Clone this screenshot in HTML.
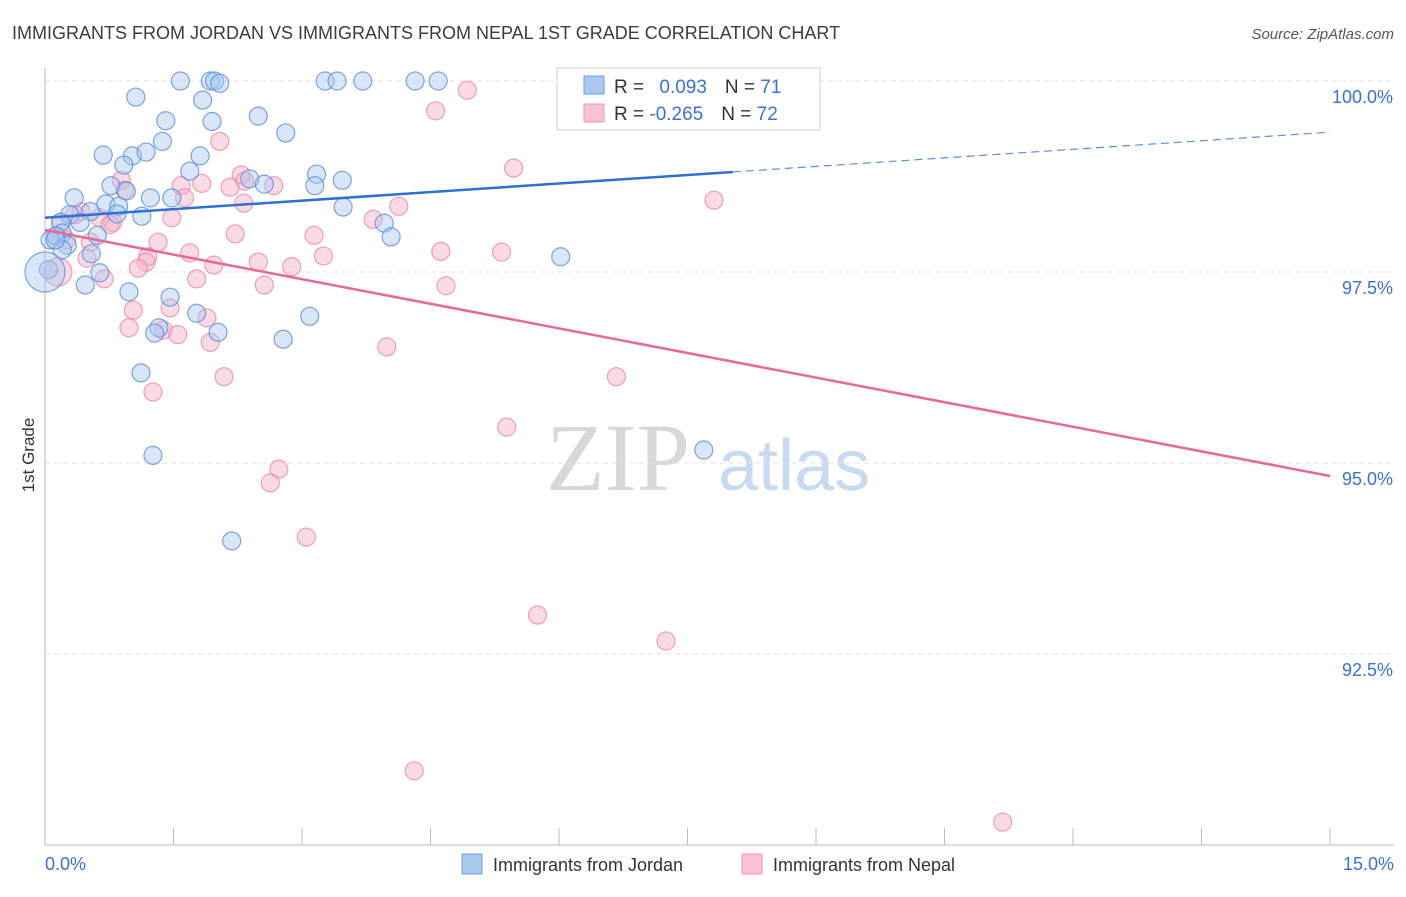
<!DOCTYPE html>
<html><head><meta charset="utf-8"><style>
body{margin:0;background:#fff;font-family:"Liberation Sans",sans-serif}
</style></head><body>
<svg id="chart" width="1406" height="892" viewBox="0 0 1406 892" xmlns="http://www.w3.org/2000/svg" font-family="Liberation Sans, sans-serif">
<text x="12" y="39" font-size="18" fill="#3c3c3c">IMMIGRANTS FROM JORDAN VS IMMIGRANTS FROM NEPAL 1ST GRADE CORRELATION CHART</text>
<text x="1394" y="39" font-size="15" font-style="italic" fill="#555" text-anchor="end">Source: ZipAtlas.com</text>
<text transform="translate(34,455) rotate(-90)" font-size="17" fill="#333" text-anchor="middle">1st Grade</text>
<g>
<text x="690" y="490" font-size="96" font-family="Liberation Serif, serif" fill="#d8d8d8" text-anchor="end">ZIP</text>
<text x="718" y="490" font-size="72" fill="#c8daf0">atlas</text>
</g>
<g id="grid"></g><g id="axes"></g><g id="pts"></g><g id="trends"></g>
<g>
<rect x="557" y="68" width="263" height="62" fill="#fff" stroke="#ccc"/>
<rect x="584" y="76" width="20" height="18" fill="#a9c8f0" stroke="#6c9ee0"/>
<rect x="584" y="104" width="20" height="18" fill="#f8c2d2" stroke="#ec9ab5"/>
<text x="614" y="93" font-size="19" fill="#333">R = <tspan fill="#3a72d0" dx="10">0.093</tspan><tspan dx="18">N = </tspan><tspan fill="#3a72d0">71</tspan></text>
<text x="614" y="120" font-size="19" fill="#333">R = <tspan fill="#3a72d0">-0.265</tspan><tspan dx="18">N = </tspan><tspan fill="#3a72d0">72</tspan></text>
</g>
<g>
<rect x="462" y="854" width="20" height="20" fill="#a9c8f0" stroke="#6c9ee0"/>
<text x="493" y="871" font-size="18" fill="#333">Immigrants from Jordan</text>
<rect x="742" y="854" width="20" height="20" fill="#f8c2d2" stroke="#ec9ab5"/>
<text x="773" y="871" font-size="18" fill="#333">Immigrants from Nepal</text>
</g>
</svg>
<script>
const xTicks=[0,1.5,3,4.5,6,7.5,9,10.5,12,13.5,15];
const yTicks=[100,97.5,95,92.5];
const yTickLabels=["100.0%","97.5%","95.0%","92.5%"];
const xEndLabels=["0.0%","15.0%"];
const jordanX=[1.58,1.93,1.98,2.04,3.27,3.41,3.71,4.32,4.59,1.06,1.84,1.41,1.95,2.49,2.81,1.37,0.68,1.02,1.18,1.81,0.92,1.69,3.17,3.47,2.39,2.56,3.15,0.77,0.95,0.34,1.23,1.48,0.71,0.86,3.48,0.53,0.84,1.13,0.29,0.18,0.41,3.96,0.20,0.61,0.13,0.06,0.26,0.54,0.20,4.04,6.02,0.64,0.47,0.98,1.46,1.77,3.09,2.02,1.33,1.28,2.78,1.12,1.26,7.69,2.18,0.12,0.04,0.0];
const jordanY=[100,100,100,99.97,100,100,100,100,100,99.79,99.75,99.48,99.47,99.54,99.32,99.21,99.03,99.02,99.07,99.02,98.9,98.82,98.78,98.7,98.72,98.65,98.63,98.63,98.56,98.47,98.47,98.47,98.39,98.36,98.35,98.29,98.26,98.23,98.25,98.15,98.15,98.14,98.01,97.98,97.97,97.92,97.85,97.74,97.79,97.96,97.7,97.49,97.33,97.24,97.17,96.96,96.92,96.71,96.77,96.7,96.62,96.18,95.1,95.17,93.98,97.92,97.53,97.5];
const nepalX=[6.23,6.46,7.19,4.93,4.56,2.04,5.47,7.81,0.89,2.29,2.33,2.67,2.16,1.83,1.59,0.93,1.63,2.32,4.13,3.83,1.48,0.79,0.42,0.19,0.35,2.22,3.14,4.62,5.33,1.32,1.69,3.25,2.49,2.88,1.2,1.18,1.09,0.49,1.97,0.69,1.77,2.56,4.68,1.03,1.46,1.89,0.98,1.38,1.55,1.93,3.99,2.09,6.67,1.26,5.39,2.73,2.63,3.05,5.75,7.25,4.31,11.18,0.15,0.25,0.53,0.64,0.76,0.12];
const nepalY=[100,100,100,99.88,99.61,99.21,98.86,98.44,98.7,98.77,98.69,98.63,98.61,98.66,98.63,98.57,98.47,98.4,98.36,98.19,98.21,98.15,98.29,98.15,98.25,98,97.98,97.77,97.76,97.89,97.75,97.71,97.63,97.57,97.7,97.63,97.55,97.68,97.59,97.41,97.41,97.33,97.32,97,97.03,96.9,96.77,96.74,96.68,96.58,96.52,96.13,96.13,95.93,95.47,94.92,94.74,94.03,93.01,92.67,90.97,90.3,97.5,97.92,97.89,98.21,98.12,97.97];
const jordanTrend=[98.21,99.33]; const jordanSolidEnd=8.03;
const nepalTrend=[98.05,94.83];
const NS="http://www.w3.org/2000/svg";
const X=v=>45+v/15*1285, Y=v=>81+(100-v)/2.5*191;
function mk(tag,attrs,parent){const e=document.createElementNS(NS,tag);for(const k in attrs)e.setAttribute(k,attrs[k]);parent.appendChild(e);return e;}
const grid=document.getElementById('grid'),axes=document.getElementById('axes'),pts=document.getElementById('pts'),tr=document.getElementById('trends');
yTicks.forEach((t,i)=>{
 const l=mk('line',{x1:45,x2:1394,y1:Y(t),y2:Y(t),stroke:'#e2e2e2','stroke-dasharray':'5,4'},grid);
 
 
 const tx=mk('text',{x:1393,y:Y(t)+22,'font-size':18,fill:'#3a72d0','text-anchor':'end'},grid);
 tx.textContent=yTickLabels[i];
 
 
});
const ax=mk('line',{x1:45,x2:1394,y1:845,y2:845,stroke:'#bbb'},axes);


const ay=mk('line',{x1:45,x2:45,y1:68,y2:845,stroke:'#bbb'},axes);


xTicks.forEach(t=>{const l=mk('line',{x1:X(t),x2:X(t),y1:828,y2:845,stroke:'#bbb'},axes);
 
 });
[[0,'start',45],[15,'end',1394]].forEach((a,i)=>{const tx=mk('text',{x:a[2],y:870,'font-size':18,fill:'#3a72d0','text-anchor':a[1]},axes);tx.textContent=xEndLabels[i];
 
 });
function drawPts(xs,ys,fill,stroke,name){xs.forEach((x,i)=>{
 const r=(x===0&&name==='jordan-point')?20:(name==='nepal-point'&&i===62?14:9);
 const c=mk('circle',{cx:X(x),cy:Y(ys[i]),r:r,fill:fill,'fill-opacity':0.45,stroke:stroke,'stroke-opacity':0.8,'stroke-width':1.2},pts);
 
 });}
drawPts(nepalX,nepalY,'#f5b0c6','#e98aa8','nepal-point');
drawPts(jordanX,jordanY,'#a9c8f0','#5b8fd9','jordan-point');
const jy=x=>jordanTrend[0]+(jordanTrend[1]-jordanTrend[0])*x/15;
const b1=mk('line',{x1:X(0),y1:Y(jy(0)),x2:X(jordanSolidEnd),y2:Y(jy(jordanSolidEnd)),stroke:'#2f6fd6','stroke-width':2.5},tr);


const b2=mk('line',{x1:X(jordanSolidEnd),y1:Y(jy(jordanSolidEnd)),x2:X(15),y2:Y(jy(15)),stroke:'#5b8fd9','stroke-width':1.2,'stroke-dasharray':'8,5'},tr);


const p1=mk('line',{x1:X(0),y1:Y(nepalTrend[0]),x2:X(15),y2:Y(nepalTrend[1]),stroke:'#e8689a','stroke-width':2.5},tr);


</script>
</body></html>
